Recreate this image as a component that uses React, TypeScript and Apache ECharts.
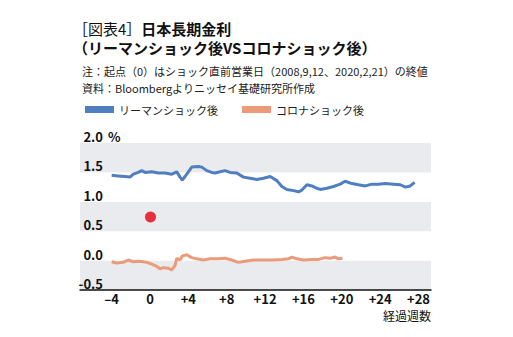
import React, { useEffect, useRef } from "react";
import * as echarts from "echarts";

const lehmanWeeks = [-4.0, -3.31, -2.61, -2.09, -1.74, -1.22, -0.87, -0.52, 0.18, 0.87, 1.57, 2.27, 2.79, 3.13, 3.37, 3.65, 4.0, 4.35, 5.04, 5.4, 5.92, 6.44, 6.78, 7.31, 7.83, 8.35, 9.05, 9.74, 10.44, 11.14, 11.83, 12.53, 13.23, 13.75, 14.27, 14.96, 15.48, 15.84, 16.36, 16.88, 17.4, 17.75, 18.44, 19.13, 19.83, 20.35, 21.05, 21.74, 22.44, 23.14, 23.83, 24.53, 25.4, 26.1, 26.62, 27.14, 27.59];
const lehmanValues = [1.45, 1.44, 1.43, 1.42, 1.47, 1.5, 1.53, 1.5, 1.51, 1.49, 1.49, 1.47, 1.51, 1.42, 1.37, 1.43, 1.51, 1.59, 1.6, 1.59, 1.53, 1.5, 1.49, 1.51, 1.53, 1.5, 1.49, 1.42, 1.4, 1.38, 1.4, 1.43, 1.36, 1.26, 1.21, 1.19, 1.17, 1.2, 1.29, 1.27, 1.23, 1.21, 1.23, 1.26, 1.3, 1.35, 1.31, 1.29, 1.27, 1.3, 1.3, 1.31, 1.3, 1.29, 1.25, 1.27, 1.33];

const coronaWeeks = [-4.0, -3.48, -2.79, -2.27, -1.74, -1.22, -0.7, -0.34, 0.18, 0.7, 1.04, 1.39, 1.91, 2.27, 2.61, 2.79, 3.13, 3.37, 3.83, 4.35, 4.87, 5.56, 6.26, 7.13, 7.83, 8.53, 9.22, 9.92, 10.78, 11.66, 12.7, 13.75, 14.44, 14.79, 15.31, 16.0, 16.88, 17.57, 18.27, 18.79, 19.31, 19.66, 20.07];
const coronaValues = [-0.02, -0.04, -0.03, 0.01, -0.02, -0.01, -0.02, -0.03, -0.06, -0.1, -0.14, -0.12, -0.13, -0.16, -0.08, 0.04, 0.01, 0.08, 0.1, 0.05, 0.03, 0.01, 0.03, 0.03, 0.04, 0.01, -0.03, -0.01, 0.01, 0.01, 0.01, 0.02, 0.03, 0.06, 0.03, 0.01, 0.02, 0.02, 0.05, 0.04, 0.06, 0.03, 0.04];

const markerPoint = [[0.05, 0.74]];

const xTickValues = [-4, 0, 4, 8, 12, 16, 20, 24, 28];
const seriesNames = ["リーマンショック後", "コロナショック後"];

const FONT = "'Noto Sans CJK JP', 'Noto Sans', sans-serif";

export default function App() {
  const ref = useRef<HTMLDivElement>(null);
  useEffect(() => {
    if (!ref.current) return;
    const chart = echarts.init(ref.current, null, { renderer: "svg" });
    const legendCommon = {
      top: 99,
      icon: "rect",
      itemWidth: 29,
      itemHeight: 7,
      itemGap: 5,
      textStyle: { fontSize: 11, color: "#222", fontFamily: FONT },
    };
    chart.setOption({
      animation: false,
      textStyle: { fontFamily: FONT },
      title: [
        {
          left: 68,
          top: 14,
          text: "{a|［図表4］}{b|日本長期金利}\n{b|（リーマンショック後VSコロナショック後）}",
          textStyle: {
            lineHeight: 19,
            rich: {
              a: { fontSize: 15, fontWeight: "normal", color: "#111", fontFamily: FONT, lineHeight: 19 },
              b: { fontSize: 15, fontWeight: "bold", color: "#111", fontFamily: FONT, lineHeight: 19 },
            },
          },
        },
        {
          left: 77,
          top: 57,
          text: "注：起点（0）はショック直前営業日（2008,9,12、2020,2,21）の終値\n資料：Bloombergよりニッセイ基礎研究所作成",
          textStyle: { fontSize: 11, fontWeight: "normal", color: "#222", lineHeight: 17, fontFamily: FONT },
        },
      ],
      legend: [
        { ...legendCommon, data: [seriesNames[0]], left: 80 },
        { ...legendCommon, data: [seriesNames[1]], left: 237 },
      ],
      grid: { left: 80, right: 82, top: 143, bottom: 47, outerBoundsMode: "none" },
      xAxis: {
        type: "value",
        min: -7.3,
        max: 29.3,
        axisLine: { show: true, onZero: false, lineStyle: { color: "#111", width: 1.5 } },
        axisTick: { show: false },
        splitLine: { show: false },
        axisLabel: {
          customValues: xTickValues,
          formatter: (v: number) => (v > 0 ? "+" + v : v < 0 ? "–" + Math.abs(v) : "0"),
          fontSize: 13,
          fontWeight: "bold",
          color: "#111",
          margin: 2,
          fontFamily: FONT,
        },
      },
      yAxis: {
        type: "value",
        min: -0.5,
        max: 2.0,
        interval: 0.5,
        axisLine: { show: false },
        axisTick: { show: false },
        splitLine: { show: false },
        splitArea: { show: true, areaStyle: { color: ["#e9ebee", "#ffffff"] } },
        axisLabel: {
          showMinLabel: true,
          showMaxLabel: true,
          margin: -23,
          verticalAlign: "bottom",
          fontSize: 13,
          fontWeight: "bold",
          color: "#111",
          fontFamily: FONT,
          formatter: (v: number) => v.toFixed(1),
        },
      },
      graphic: [
        {
          type: "text",
          x: 108,
          y: 143,
          style: { text: "%", fontSize: 13, fontWeight: "bold", fill: "#111", verticalAlign: "bottom", fontFamily: FONT },
        },
        {
          type: "text",
          x: 431,
          y: 315,
          style: { text: "経過週数", fontSize: 12, fill: "#111", align: "right", verticalAlign: "middle", fontFamily: FONT },
        },
      ],
      series: [
        {
          name: seriesNames[0],
          type: "line",
          data: lehmanWeeks.map((w, i) => [w, lehmanValues[i]]),
          showSymbol: false,
          symbol: "none",
          lineStyle: { color: "#4f7fc0", width: 3 },
          itemStyle: { color: "#4f7fc0" },
        },
        {
          name: seriesNames[1],
          type: "line",
          data: coronaWeeks.map((w, i) => [w, coronaValues[i]]),
          showSymbol: false,
          symbol: "none",
          lineStyle: { color: "#eb9b79", width: 3 },
          itemStyle: { color: "#eb9b79" },
        },
        {
          name: "marker",
          type: "scatter",
          data: markerPoint,
          symbol: "circle",
          symbolSize: 11,
          itemStyle: { color: "#e60012" },
          z: 5,
        },
      ],
    });
    return () => chart.dispose();
  }, []);
  return <div ref={ref} style={{ position: "absolute", left: 0, top: 0, width: 513, height: 337 }} />;
}
